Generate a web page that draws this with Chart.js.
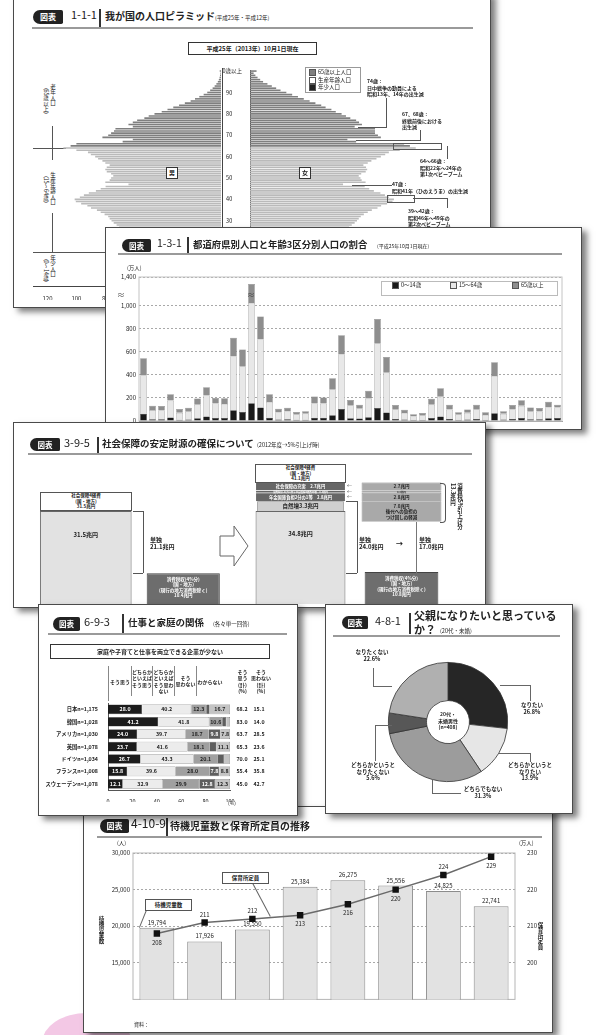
<!DOCTYPE html>
<html lang="ja">
<head>
<meta charset="utf-8">
<title>図表</title>
<script src="https://cdn.jsdelivr.net/npm/chart.js@4.4.1/dist/chart.umd.min.js"></script>
<style>
body{margin:0;width:597px;height:1035px;overflow:hidden;background:#fff;font-family:"Noto Sans CJK JP","Noto Sans",sans-serif;color:#222}
.layer,.clip{position:absolute;left:0;top:0;width:597px;height:1035px}
.box{position:absolute;background:#fff;border:1.5px solid #4a4a4a;box-sizing:border-box;box-shadow:5px 4px 6px rgba(0,0,0,.5)}
.a{position:absolute;white-space:nowrap;line-height:1.2}
.b{font-weight:bold}
.c{text-align:center}
.pill{position:absolute;background:#222;color:#fff;border-radius:8px 2px 2px 8px;font-weight:bold;text-align:center}
.vb{position:absolute;width:1.5px;background:#333}
.ln{position:absolute;background:#555}
.vt{writing-mode:vertical-rl}
canvas{position:absolute}
.sw{display:inline-block;width:5px;height:5px;border:.5px solid #555;margin-right:2px;vertical-align:middle}
</style>
</head>
<body>

<div class="a" style="left:42px;top:1013px;width:90px;height:60px;border-radius:50%;background:#f3c8e5;z-index:0"></div>

<!-- 1-1-1 人口ピラミッド -->
<div class="layer" style="z-index:1">
 <div class="box" style="left:13px;top:-8px;width:478px;height:316px"></div>
 <div class="clip" style="clip-path:inset(0 107px 728px 14px)">
  <div class="pill" style="left:33px;top:10px;width:30px;height:14px;font-size:8px;line-height:14px">図表</div>
  <div class="a" style="left:71px;top:8px;font-size:11px">1-1-1</div>
  <div class="vb" style="left:99px;top:9px;height:18px"></div>
  <div class="a b" style="left:105px;top:10px;font-size:10px">我が国の人口ピラミッド</div>
  <div class="a" style="left:215px;top:15px;font-size:5.5px">(平成25年・平成12年)</div>
  <div class="ln" style="left:32px;top:27px;width:441px;height:2px;background:#9a9a9a"></div>
  <div class="a b c" style="left:188px;top:42px;width:129px;height:13px;border:1px solid #333;box-sizing:border-box;font-size:6px;line-height:11px">平成25年（2013年）10月1日現在</div>

  <div class="a vt" style="left:42px;top:84px;font-size:5.5px;line-height:7px">老年人口<br>（65歳以上）</div>
  <div class="a vt" style="left:42px;top:172px;font-size:5.5px;line-height:7px">生産年齢人口<br>（15～64歳）</div>
  <div class="a vt" style="left:42px;top:255px;font-size:5.5px;line-height:7px">年少人口<br>（0～14歳）</div>
  <div class="ln" style="left:33px;top:148px;width:33px;height:1px"></div>
  <div class="ln" style="left:52px;top:126px;width:1px;height:34px"></div>
  <div class="ln" style="left:33px;top:252px;width:75px;height:1px"></div>
  <div class="ln" style="left:52px;top:213px;width:1px;height:39px"></div>

  <canvas id="pyrMale" width="189" height="234" style="left:33px;top:66px"></canvas>
  <canvas id="pyrFemale" width="250" height="234" style="left:222px;top:66px"></canvas>
  <div class="ln" style="left:222px;top:68px;width:1px;height:218px;background:#444"></div>

  <div class="a b c" style="left:166px;top:167px;width:10px;height:10px;border:1px solid #333;background:#fff;font-size:6px;line-height:10px">男</div>
  <div class="a b c" style="left:299px;top:167px;width:10px;height:10px;border:1px solid #333;background:#fff;font-size:6px;line-height:10px">女</div>

  <div class="a" style="left:305px;top:67px;width:56px;height:26px;border:1px solid #999;background:#fff;box-sizing:border-box;padding:1px 3px;font-size:5.5px;line-height:7.6px">
   <div><span class="sw" style="background:#7f7f7f"></span>65歳以上人口</div>
   <div><span class="sw" style="background:#fff"></span>生産年齢人口</div>
   <div><span class="sw" style="background:#222"></span>年少人口</div>
  </div>

  <div class="a b" style="left:367px;top:78px;font-size:5px;line-height:6.5px">74歳：<br>日中戦争の動員による<br>昭和13年、14年の出生減</div>
  <div class="ln" style="left:386px;top:98px;width:1px;height:29px"></div>
  <div class="ln" style="left:358px;top:127px;width:29px;height:1px"></div>
  <div class="a b" style="left:402px;top:111px;font-size:5px;line-height:6.5px">67、68歳：<br>終戦前後における<br>出生減</div>
  <div class="ln" style="left:420px;top:130px;width:1px;height:10px"></div>
  <div class="ln" style="left:356px;top:140px;width:65px;height:1px"></div>
  <div class="a" style="left:393px;top:143px;width:47px;height:5px;border:.8px solid #555"></div>
  <div class="ln" style="left:447px;top:146px;width:1px;height:13px"></div>
  <div class="a b" style="left:420px;top:158px;font-size:5px;line-height:6.5px">64～66歳：<br>昭和22年～24年の<br>第1次ベビーブーム</div>
  <div class="ln" style="left:352px;top:185px;width:40px;height:1px"></div>
  <div class="a b" style="left:392px;top:181px;font-size:5px;line-height:6.5px">47歳：<br>昭和41年（ひのえうま）の出生減</div>
  <div class="a" style="left:387px;top:195px;width:26px;height:6px;border:.8px solid #555"></div>
  <div class="ln" style="left:413px;top:198px;width:34px;height:1px"></div>
  <div class="ln" style="left:447px;top:198px;width:1px;height:10px"></div>
  <div class="a b" style="left:408px;top:208px;font-size:5px;line-height:6.5px">39～42歳：<br>昭和46年～49年の<br>第2次ベビーブーム</div>
 </div>
</div>

<!-- 1-3-1 都道府県別人口 -->
<div class="layer" style="z-index:2">
 <div class="box" style="left:105px;top:227px;width:477px;height:203px"></div>
 <div class="clip" style="clip-path:inset(228px 16px 606px 106px)">
  <div class="pill" style="left:122px;top:239px;width:29px;height:13px;font-size:7.5px;line-height:13px">図表</div>
  <div class="a" style="left:157px;top:237px;font-size:10.5px">1-3-1</div>
  <div class="vb" style="left:187px;top:237px;height:16px"></div>
  <div class="a b" style="left:193px;top:239px;font-size:9.4px">都道府県別人口と年齢3区分別人口の割合</div>
  <div class="a" style="left:377px;top:243px;font-size:5px">(平成25年10月1日現在)</div>
  <div class="ln" style="left:118px;top:253px;width:444px;height:2px;background:#9a9a9a"></div>
  <div class="a" style="left:127px;top:265px;font-size:5.5px">(万人)</div>
  <canvas id="prefChart" width="460" height="200" style="left:108px;top:262px"></canvas>
  <div class="a" style="left:117px;top:290px;font-size:8px;color:#444">≈</div>
  <div class="a" style="left:247px;top:290px;font-size:8px;color:#444">≈</div>
  <div class="a" style="left:381px;top:281px;width:177px;height:15px;border:1px solid #bbb;background:#fff;box-sizing:border-box;font-size:5.5px;line-height:13px">
   <span class="a" style="left:10px"><span class="sw" style="background:#1a1a1a"></span>0～14歳</span>
   <span class="a" style="left:68px"><span class="sw" style="background:#e8e8e8"></span>15～64歳</span>
   <span class="a" style="left:130px"><span class="sw" style="background:#8e8e8e"></span>65歳以上</span>
  </div>
 </div>
</div>

<!-- 3-9-5 社会保障の安定財源 -->
<div class="layer" style="z-index:3">
 <div class="box" style="left:13px;top:422px;width:473px;height:186px"></div>
 <div class="clip" style="clip-path:inset(423px 112px 428px 14px)">
  <div class="pill" style="left:30px;top:438px;width:30px;height:13px;font-size:7.5px;line-height:13px">図表</div>
  <div class="a" style="left:64px;top:436px;font-size:11px">3-9-5</div>
  <div class="vb" style="left:97px;top:437px;height:16px"></div>
  <div class="a b" style="left:102px;top:438px;font-size:9.5px">社会保障の安定財源の確保について</div>
  <div class="a" style="left:257px;top:442px;font-size:5.5px">(2012年度→5%引上げ時)</div>
  <div class="ln" style="left:28px;top:453px;width:444px;height:2px;background:#9a9a9a"></div>

  <canvas id="ssLeft" width="206" height="145" style="left:32px;top:463px"></canvas>
  <canvas id="ssRight" width="212" height="145" style="left:245px;top:463px"></canvas>

  <div class="a b c" style="left:40px;top:492px;width:92px;height:19px;border:1px solid #555;background:#fff;box-sizing:border-box;font-size:4.5px;line-height:5.6px">社会保障4経費<br>(国・地方)<br>31.5兆円</div>
  <div class="a b c" style="left:255px;top:464px;width:91px;height:19px;border:1px solid #555;background:#fff;box-sizing:border-box;font-size:4.5px;line-height:5.6px">社会保障4経費<br>(国・地方)<br>41.1兆円</div>

  <div class="ln" style="left:133px;top:511px;width:10px;height:1px"></div>
  <div class="ln" style="left:143px;top:511px;width:1px;height:62px"></div>
  <div class="ln" style="left:133px;top:573px;width:10px;height:1px"></div>
  <div class="a b" style="left:150px;top:536px;font-size:6px;line-height:7px">単独<br>21.1兆円</div>

  <svg class="a" style="left:219px;top:525px" width="31" height="42"><polygon points="1,11 15,11 15,1 29,21 15,41 15,31 1,31" fill="#fff" stroke="#666" stroke-width="1"/></svg>

  <div class="ln" style="left:346px;top:501px;width:11px;height:1px"></div>
  <div class="ln" style="left:357px;top:501px;width:1px;height:72px"></div>
  <div class="ln" style="left:346px;top:573px;width:11px;height:1px"></div>
  <div class="a" style="left:347px;top:482px;font-size:5px;line-height:5.6px;color:#444">←<br>←<br>←</div>
  <div class="a b" style="left:359px;top:536px;font-size:6px;line-height:7px">単独<br>24.0兆円</div>
  <div class="a b" style="left:396px;top:539px;font-size:7px">→</div>
  <div class="a b" style="left:419px;top:536px;font-size:6px;line-height:7px">単独<br>17.0兆円</div>
  <div class="ln" style="left:416px;top:522px;width:1px;height:51px;background:#777"></div>
  <div class="a" style="left:440px;top:483px;width:5px;height:38px;border:1px solid #555;border-left:none;border-radius:0 4px 4px 0"></div>
  <div class="a b vt" style="left:449px;top:483px;font-size:5.5px;line-height:7px">消費税5%引上げ分<br>13.3兆円</div>
 </div>
</div>

<!-- 4-10-9 待機児童数と保育所定員 -->
<div class="layer" style="z-index:4">
 <div class="box" style="left:83px;top:806px;width:470px;height:227px"></div>
 <div class="clip" style="clip-path:inset(807px 45px 3px 84px)">
  <div class="pill" style="left:100px;top:819px;width:29px;height:14px;font-size:8px;line-height:14px">図表</div>
  <div class="a" style="left:131px;top:816px;font-size:12px">4-10-9</div>
  <div class="vb" style="left:166px;top:818px;height:18px"></div>
  <div class="a b" style="left:170px;top:820px;font-size:10px">待機児童数と保育所定員の推移</div>
  <div class="ln" style="left:97px;top:836px;width:445px;height:2px;background:#9a9a9a"></div>
  <div class="a" style="left:117px;top:840px;font-size:5.5px">(人)</div>
  <div class="a" style="left:519px;top:840px;font-size:5.5px">(万人)</div>
  <canvas id="comboChart" width="460" height="162" style="left:90px;top:845px"></canvas>
  <div class="a b vt" style="left:98px;top:916px;font-size:5.5px">待機児童数</div>
  <div class="a b vt" style="left:537px;top:922px;font-size:5.5px">保育所定員</div>
  <div class="ln" style="left:146px;top:910px;width:1px;height:19px;transform:rotate(22deg);transform-origin:top;background:#666"></div>
  <div class="a b c" style="left:145px;top:899px;width:47px;height:12px;border:1px solid #555;background:#fff;box-sizing:border-box;font-size:5.5px;line-height:10px">待機児童数</div>
  <div class="ln" style="left:252px;top:883px;width:1px;height:38px;transform:rotate(-28deg);transform-origin:top;background:#666"></div>
  <div class="a b c" style="left:222px;top:872px;width:47px;height:12px;border:1px solid #555;background:#fff;box-sizing:border-box;font-size:5.5px;line-height:10px">保育所定員</div>
  <div class="a" style="left:134px;top:1021px;font-size:5px">資料：</div>
 </div>
</div>

<!-- 6-9-3 仕事と家庭の関係 -->
<div class="layer" style="z-index:5">
 <div class="box" style="left:38px;top:604px;width:260px;height:212px"></div>
 <div class="clip" style="clip-path:inset(605px 300px 220px 39px)">
  <div class="pill" style="left:53px;top:617px;width:27px;height:14px;font-size:7.5px;line-height:14px">図表</div>
  <div class="a" style="left:84px;top:615px;font-size:11px">6-9-3</div>
  <div class="vb" style="left:122px;top:614px;height:20px"></div>
  <div class="a b" style="left:128px;top:617px;font-size:9.5px">仕事と家庭の関係</div>
  <div class="a" style="left:213px;top:621px;font-size:5.5px">(各々単一回答)</div>
  <div class="ln" style="left:48px;top:633px;width:239px;height:1.5px;background:#9a9a9a"></div>
  <div class="a b c" style="left:50px;top:644px;width:220px;height:15px;border:1px solid #333;box-sizing:border-box;font-size:6px;line-height:13px">家庭や子育てと仕事を両立できる企業が少ない</div>

  <div class="a b c" style="left:109px;top:679px;width:22px;font-size:5px">そう思う</div>
  <div class="a b c" style="left:132px;top:669px;width:20px;font-size:5px;line-height:6.3px">どちらか<br>といえば<br>そう思う</div>
  <div class="a b c" style="left:153px;top:669px;width:21px;font-size:5px;line-height:6.3px">どちらか<br>といえば<br>そう思わ<br>ない</div>
  <div class="a b c" style="left:175px;top:675px;width:21px;font-size:5px;line-height:6.3px">そう<br>思わない</div>
  <div class="a b c" style="left:197px;top:679px;width:26px;font-size:5px">わからない</div>
  <div class="a b c" style="left:236px;top:669px;width:13px;font-size:5px;line-height:6.3px">そう<br>思う<br>(計)<br>(%)</div>
  <div class="a b c" style="left:250px;top:669px;width:22px;font-size:5px;line-height:6.3px">そう<br>思わない<br>(計)<br>(%)</div>
  <div class="ln" style="left:108px;top:666px;width:.8px;height:35px;background:#888"></div>
  <div class="ln" style="left:131px;top:666px;width:.8px;height:30px;background:#888"></div>
  <div class="ln" style="left:152px;top:666px;width:.8px;height:30px;background:#888"></div>
  <div class="ln" style="left:174px;top:666px;width:.8px;height:30px;background:#888"></div>
  <div class="ln" style="left:196px;top:666px;width:.8px;height:30px;background:#888"></div>
  <canvas id="workChart" width="235" height="104" style="left:40px;top:698px"></canvas>
  <div class="a" style="left:228px;top:800px;font-size:5px">(%)</div>
 </div>
</div>

<!-- 4-8-1 父親になりたいか -->
<div class="layer" style="z-index:5">
 <div class="box" style="left:325px;top:604px;width:248px;height:210px"></div>
 <div class="clip" style="clip-path:inset(605px 25px 222px 326px)">
  <div class="pill" style="left:342px;top:616px;width:26px;height:13px;font-size:7.5px;line-height:13px">図表</div>
  <div class="a" style="left:375px;top:614px;font-size:11px">4-8-1</div>
  <div class="vb" style="left:409px;top:613px;height:21px"></div>
  <div class="a b" style="left:414px;top:609px;font-size:11px">父親になりたいと思っている</div>
  <div class="a b" style="left:414px;top:623px;font-size:11px">か？</div>
  <div class="a" style="left:440px;top:628px;font-size:5.5px">(20代・未婚)</div>
  <div class="ln" style="left:333px;top:635px;width:227px;height:1.5px;background:#9a9a9a"></div>
  <canvas id="fatherChart" width="136" height="136" style="left:380px;top:654px"></canvas>
  <div class="a b c" style="left:426px;top:711px;width:44px;font-size:5px;line-height:6.5px">20代・<br>未婚男性<br>(n=408)</div>

  <div class="ln" style="left:373px;top:668px;width:.8px;height:18px;background:#666"></div>
  <div class="ln" style="left:373px;top:686px;width:19px;height:.8px;background:#666"></div>
  <div class="ln" style="left:500px;top:685px;width:30px;height:.8px;background:#666"></div>
  <div class="ln" style="left:530px;top:685px;width:.8px;height:16px;background:#666"></div>
  <div class="ln" style="left:498px;top:753px;width:32px;height:.8px;background:#666"></div>
  <div class="ln" style="left:530px;top:753px;width:.8px;height:9px;background:#666"></div>
  <div class="ln" style="left:432px;top:779px;width:.8px;height:14px;background:#666"></div>
  <div class="ln" style="left:432px;top:793px;width:29px;height:.8px;background:#666"></div>
  <div class="ln" style="left:375px;top:725px;width:17px;height:.8px;background:#666"></div>
  <div class="ln" style="left:375px;top:725px;width:.8px;height:36px;background:#666"></div>

  <div id="fl0" class="a b c" style="left:513px;top:702px;width:38px;font-size:5.5px;white-space:pre"></div>
  <div id="fl1" class="a b c" style="left:501px;top:762px;width:58px;font-size:5.5px;white-space:pre"></div>
  <div id="fl2" class="a b c" style="left:458px;top:786px;width:50px;font-size:5.5px;white-space:pre"></div>
  <div id="fl3" class="a b c" style="left:343px;top:762px;width:60px;font-size:5.5px;white-space:pre"></div>
  <div id="fl4" class="a b c" style="left:347px;top:649px;width:50px;font-size:5.5px;white-space:pre"></div>
 </div>
</div>

<script>
// ---- 1-1-1 人口ピラミッド（万人）----
const pyramidAges = [0,1,2,3,4,5,6,7,8,9,10,11,12,13,14,15,16,17,18,19,20,21,22,23,24,25,26,27,28,29,30,31,32,33,34,35,36,37,38,39,40,41,42,43,44,45,46,47,48,49,50,51,52,53,54,55,56,57,58,59,60,61,62,63,64,65,66,67,68,69,70,71,72,73,74,75,76,77,78,79,80,81,82,83,84,85,86,87,88,89,90,91,92,93,94,95,96,97,98,99,100];
const male2013 = [52.7,53.0,53.5,54.0,54.3,54.1,54.8,55.3,54.5,55.6,
  57.0,59.2,59.8,60.4,60.9,61.1,61.9,61.7,62.3,63.3,
  62.8,62.6,63.6,64.4,65.4,66.3,68.0,70.5,72.2,74.2,
  75.7,77.0,78.0,80.5,83.2,85.8,89.9,92.4,96.7,100.4,
  101.2,97.6,94.8,91.4,86.5,83.2,79.8,64.0,80.0,77.0,
  76.0,74.5,76.0,79.0,80.0,79.0,77.0,80.0,82.0,85.0,
  87.0,90.0,92.0,100.0,109.0,104.0,100.0,68.0,61.0,82.0,
  78.0,76.0,74.0,73.0,61.0,64.0,61.0,58.0,53.0,50.0,
  46.0,41.0,37.0,33.0,29.0,25.0,21.0,18.0,15.0,12.0,
  9.5,7.5,5.8,4.4,3.2,2.2,1.5,1.0,0.7,0.4,
  0.9];
const female2013 = [50.3,50.5,50.9,51.4,51.8,51.5,52.2,52.7,51.9,53.0,
  54.2,56.3,57.0,57.4,57.9,58.0,58.9,58.7,59.2,60.1,
  59.7,59.6,60.6,61.6,62.8,64.2,65.8,68.2,70.0,72.0,
  73.6,74.8,76.2,78.3,81.0,83.8,87.7,90.2,94.3,98.0,
  99.0,95.5,92.8,89.7,85.2,82.0,78.9,64.0,79.5,76.8,
  76.0,74.8,76.5,79.6,80.6,79.8,78.0,81.0,83.5,87.0,
  90.0,93.0,95.5,103.0,114.0,110.0,106.0,73.0,67.0,90.0,
  88.0,86.0,86.0,86.0,72.0,77.0,75.0,73.0,69.0,66.0,
  63.0,59.0,56.0,52.0,49.0,45.0,41.0,37.0,33.0,29.0,
  25.0,21.0,18.0,15.0,12.0,9.0,7.0,5.2,3.7,2.5,
  4.5];

// ---- 1-3-1 都道府県別人口（万人）----
const prefNames = ['北海道','青森','岩手','宮城','秋田','山形','福島','茨城','栃木','群馬','埼玉','千葉','東京','神奈川','新潟','富山','石川','福井','山梨','長野','岐阜','静岡','愛知','三重','滋賀','京都','大阪','兵庫','奈良','和歌山','鳥取','島根','岡山','広島','山口','徳島','香川','愛媛','高知','福岡','佐賀','長崎','熊本','大分','宮崎','鹿児島','沖縄'];
const age0to14 = [63,15,16,30,11,14,24,38,26,26,94,79,155,118,28,13,15,11,11,28,28,49,105,24,21,32,112,74,17,12,8,9,26,38,17,9,13,17,9,68,12,18,25,15,16,23,25];
const age15to64 = [333,80,76,147,60,67,118,184,126,122,469,396,870,592,138,63,70,47,52,124,123,226,475,112,89,163,562,345,84,58,34,40,116,173,82,46,58,84,43,323,50,82,107,69,66,97,92];
const age65plus = [148,38,38,55,33,33,54,71,47,50,159,145,165,197,67,31,30,21,22,60,54,97,164,47,32,67,211,137,37,28,17,21,51,73,43,22,28,40,23,118,22,39,48,34,30,48,25];
const prefTickValues = [0,200,400,600,800,1000,1250];
const prefTickLabels = ['0','200','400','600','800','1,000','1,400'];

// ---- 3-9-5 社会保障4経費と消費税収（兆円）----
const ssBeforeCats = ['2012年度','消費税収'];
const ssBefore = [31.5, 10.4];             // 社会保障4経費, 消費税収(4%分)
const ssAfterCats = ['5%引上げ時','消費税収'];
const ssAfterBase = [31.5, 3.3];           // 現行分, 自然増
const ssAfterAdd = [2.8, 0.8, 2.7];        // 下から
const ssAfterAddNames = ['年金国庫負担2分の1等', '消費税引上げに伴う社会保障4経費の増', '社会保障の充実'];
const ssTaxNow = 10.8;
const ssTaxNew = [7.0, 2.8, 0.8, 2.7];     // 引上げ分の内訳（下から）

// ---- 6-9-3 仕事と家庭の関係（%）----
const countries = ['日本n=1,175','韓国n=1,028','アメリカn=1,030','英国n=1,078','ドイツn=1,034','フランスn=1,008','スウェーデンn=1,078'];
const answers = ['そう思う','どちらかといえばそう思う','どちらかといえばそう思わない','そう思わない','わからない'];
const agree = [28.0, 41.2, 24.0, 23.7, 26.7, 15.8, 12.1];
const ratherAgree = [40.2, 41.8, 39.7, 41.6, 43.3, 39.6, 32.9];
const ratherDisagree = [12.3, 10.6, 18.7, 18.1, 20.1, 28.0, 29.9];
const disagree = [2.8, 3.4, 9.8, 5.5, 5.0, 7.8, 12.8];
const dontKnow = [16.7, 3.0, 7.8, 11.1, 4.9, 8.8, 12.3];

// ---- 4-8-1 父親になりたいか（%）----
const fatherLabels = ['なりたい','どちらかというと\nなりたい','どちらでもない','どちらかというと\nなりたくない','なりたくない'];
const fatherShares = [26.8, 13.9, 31.3, 5.6, 22.6];

// ---- 4-10-9 待機児童数（人）と保育所定員（万人）----
const yearLabels = ['平成18年','19年','20年','21年','22年','23年','24年','25年'];
const waiting = [19794, 17926, 19550, 25384, 26275, 25556, 24825, 22741];
const capacity = [208, 211, 212, 213, 216, 220, 224, 229];
const capAbove = [false, true, true, false, false, false, true, false];

Chart.defaults.font.family = '"Noto Sans CJK JP","Noto Sans",sans-serif';
Chart.defaults.color = '#222';
Chart.defaults.animation = false;
Chart.defaults.responsive = false;
Chart.defaults.plugins.legend.display = false;
Chart.defaults.plugins.tooltip.enabled = false;

const frame = {
  id: 'frame',
  beforeDatasetsDraw(chart, args, opts) {
    const a = chart.chartArea, c = chart.ctx;
    c.save();
    c.strokeStyle = opts.color || '#bbb';
    c.lineWidth = 1;
    c.strokeRect(a.left, a.top, a.right - a.left, a.bottom - a.top);
    c.restore();
  }
};

// pyramid
const ageColor = ctx => {
  const a = pyramidAges[ctx.dataIndex];
  return a >= 65 ? '#7f7f7f' : (a >= 15 ? '#bababa' : '#2a2a2a');
};

new Chart(document.getElementById('pyrMale'), {
  type: 'bar',
  data: { labels: pyramidAges, datasets: [{ data: male2013, backgroundColor: ageColor, barPercentage: 0.75, categoryPercentage: 1 }] },
  options: {
    indexAxis: 'y',
    layout: { padding: { top: 4 } },
    scales: {
      x: { reverse: true, min: 0, max: 130, grid: { display: false }, border: { color: '#444' },
           ticks: { stepSize: 20, includeBounds: false, maxRotation: 0, padding: 1, font: { size: 6 }, callback: v => v === 0 ? '' : v },
           afterFit(s) { s.height = 14; } },
      y: { display: false, reverse: true }
    }
  }
});

new Chart(document.getElementById('pyrFemale'), {
  type: 'bar',
  data: { labels: pyramidAges, datasets: [{ data: female2013, backgroundColor: ageColor, barPercentage: 0.75, categoryPercentage: 1 }] },
  options: {
    indexAxis: 'y',
    layout: { padding: { top: 4 } },
    scales: {
      x: { min: 0, max: 152.7, grid: { display: false }, border: { color: '#444' }, ticks: { display: false },
           afterFit(s) { s.height = 14; } },
      y: { reverse: true, grid: { display: false }, border: { color: '#444' },
           ticks: { autoSkip: false, padding: 0, crossAlign: 'center', font: { size: 5.5 },
             callback(v) { const a = Number(this.getLabelForValue(v)); return a === 100 ? '100歳以上' : (a > 0 && a % 10 === 0 ? String(a) : ''); } },
           afterFit(s) { s.width = 28; } }
    }
  }
});

// prefectures
new Chart(document.getElementById('prefChart'), {
  type: 'bar',
  data: {
    labels: prefNames.map(n => n.split('')),
    datasets: [
      { label: '0～14歳', data: age0to14, backgroundColor: '#1a1a1a', borderColor: '#1a1a1a', borderWidth: 0.5 },
      { label: '15～64歳', data: age15to64, backgroundColor: '#e8e8e8', borderColor: '#9a9a9a', borderWidth: 0.6 },
      { label: '65歳以上', data: age65plus, backgroundColor: '#8e8e8e', borderColor: '#7a7a7a', borderWidth: 0.5 }
    ].map(d => Object.assign(d, { barPercentage: 0.75, categoryPercentage: 1 }))
  },
  options: {
    layout: { padding: { top: 15, right: 6 } },
    plugins: { frame: { color: '#c4c4c4' } },
    scales: {
      x: { stacked: true, grid: { display: false }, border: { color: '#999' },
           ticks: { autoSkip: false, maxRotation: 0, minRotation: 0, padding: 2, font: { size: 6 } },
           afterFit(s) { s.height = 41; } },
      y: { stacked: true, min: 0, max: 1250,
           afterBuildTicks(s) { s.ticks = prefTickValues.map(v => ({ value: v })); },
           grid: { color: '#a8a8a8', drawTicks: false }, border: { display: false, dash: [2, 2] },
           ticks: { padding: 3, font: { size: 6 }, callback: v => prefTickLabels[prefTickValues.indexOf(v)] },
           afterFit(s) { s.width = 31; } }
    }
  },
  plugins: [frame]
});

// social security diagram
const barNotes = {
  id: 'barNotes',
  afterDatasetsDraw(chart) {
    const c = chart.ctx;
    chart.data.datasets.forEach((ds, di) => {
      if (!ds.notes) return;
      chart.getDatasetMeta(di).data.forEach((bar, i) => {
        if (!ds.notes[i]) return;
        const lines = ds.notes[i].split('\n');
        const size = ds.noteSize || 5;
        const y0 = ds.noteTop != null ? bar.y + ds.noteTop : (bar.y + bar.base) / 2 - (lines.length - 1) * size * 0.6;
        c.save();
        c.font = 'bold ' + size + 'px "Noto Sans CJK JP"';
        c.fillStyle = ds.noteColor || '#222';
        c.textAlign = 'center';
        c.textBaseline = 'middle';
        lines.forEach((t, k) => c.fillText(t, bar.x, y0 + k * size * 1.2));
        c.restore();
      });
    });
  }
};
const ssOptions = {
  layout: { padding: { top: 8, bottom: 4, left: 5, right: 6 } },
  scales: { x: { display: false }, y: { display: false, min: 0, max: 45 } }
};
const taxNote = v => '消費税収(4%分)\n(国・地方)\n(現行の地方消費税除く)\n' + v.toFixed(1) + '兆円';

new Chart(document.getElementById('ssLeft'), {
  type: 'bar',
  data: {
    labels: ssBeforeCats,
    datasets: [
      { data: [[0, ssBefore[0]], null], backgroundColor: '#e2e2e2', borderColor: '#666', borderWidth: 1,
        barPercentage: 0.94, categoryPercentage: 1, grouped: false,
        notes: [ssBefore[0].toFixed(1) + '兆円', null], noteTop: 24, noteSize: 6 },
      { data: [null, [0, ssBefore[1]]], backgroundColor: '#6d6d6d', borderColor: '#444', borderWidth: 1,
        barPercentage: 0.75, categoryPercentage: 1, grouped: false,
        notes: [null, taxNote(ssBefore[1])], noteTop: 6, noteSize: 4.5, noteColor: '#fff' }
    ]
  },
  options: ssOptions,
  plugins: [barNotes]
});

const afterTop = ssAfterBase[0] + ssAfterBase[1];
let acc = afterTop;
const addRanges = ssAfterAdd.map(v => { const r = [acc, acc + v]; acc += v; return r; });
let gAcc = afterTop - ssTaxNew[0];
const newRanges = ssTaxNew.map(v => { const r = [gAcc, gAcc + v]; gAcc += v; return r; });
const grayNotes = ssTaxNew.map((v, k) => k === 0 ? v.toFixed(1) + '兆円\n後代への負担の\nつけ回しの軽減' : v.toFixed(1) + '兆円');

const rightSets = [
  { data: [[0, ssAfterBase[0]], null], backgroundColor: '#e2e2e2', borderColor: '#666', borderWidth: 1,
    barPercentage: 0.89, notes: [afterTop.toFixed(1) + '兆円', null], noteTop: 23, noteSize: 6 },
  { data: [[ssAfterBase[0], afterTop], null], backgroundColor: '#cfcfcf', borderColor: '#888', borderWidth: 0.8,
    barPercentage: 0.86, notes: ['自然増' + ssAfterBase[1].toFixed(1) + '兆円', null], noteSize: 5.5 },
  { data: [null, [0, ssTaxNow]], backgroundColor: '#6e6e6e', borderColor: '#444', borderWidth: 1,
    barPercentage: 0.73, notes: [null, taxNote(ssTaxNow)], noteTop: 6, noteSize: 4.5, noteColor: '#fff' }
];
addRanges.forEach((r, k) => rightSets.push({
  data: [r, null], backgroundColor: '#666', borderColor: '#fff', borderWidth: 0.5, barPercentage: 0.89,
  notes: [ssAfterAddNames[k] + '　' + ssAfterAdd[k].toFixed(1) + '兆円', null],
  noteSize: ssAfterAdd[k] < 1 ? 2.5 : 4.3, noteColor: '#fff'
}));
newRanges.forEach((r, k) => rightSets.push({
  data: [null, r], backgroundColor: '#a9a9a9', borderColor: '#777', borderWidth: 0.6, barPercentage: 0.79,
  notes: [null, grayNotes[k]], noteSize: ssTaxNew[k] < 1 ? 2.5 : 4.5
}));
rightSets.forEach(d => Object.assign(d, { categoryPercentage: 1, grouped: false }));

new Chart(document.getElementById('ssRight'), {
  type: 'bar',
  data: { labels: ssAfterCats, datasets: rightSets },
  options: Object.assign({}, ssOptions, { layout: { padding: { top: 8, bottom: 4, left: 5, right: 5 } } }),
  plugins: [barNotes]
});

// work / family
const workLabels = {
  id: 'workLabels',
  afterDatasetsDraw(chart) {
    const c = chart.ctx, area = chart.chartArea;
    c.save();
    c.font = 'bold 5.3px "Noto Sans CJK JP"';
    c.textAlign = 'center';
    c.textBaseline = 'middle';
    chart.data.datasets.forEach((ds, di) => {
      chart.getDatasetMeta(di).data.forEach((bar, i) => {
        if (Math.abs(bar.x - bar.base) < 9) return;
        c.fillStyle = (di === 0 || di === 3) ? '#fff' : '#222';
        c.fillText(ds.data[i].toFixed(1), (bar.x + bar.base) / 2, bar.y);
      });
    });
    c.fillStyle = '#222';
    countries.forEach((n, i) => {
      const y = chart.scales.y.getPixelForValue(i);
      c.fillText((agree[i] + ratherAgree[i]).toFixed(1), area.right + 12, y);
      c.fillText((ratherDisagree[i] + disagree[i]).toFixed(1), area.right + 29, y);
    });
    c.restore();
  }
};
const answerData = [agree, ratherAgree, ratherDisagree, disagree, dontKnow];
const answerColors = ['#1c1c1c', '#ececec', '#a0a0a0', '#5e5e5e', '#c4c4c4'];
new Chart(document.getElementById('workChart'), {
  type: 'bar',
  data: {
    labels: countries,
    datasets: answers.map((a, k) => ({ label: a, data: answerData[k], backgroundColor: answerColors[k],
      borderColor: '#555', borderWidth: 0.5, barPercentage: 0.78, categoryPercentage: 1 }))
  },
  options: {
    indexAxis: 'y',
    layout: { padding: { top: 3, right: 45 } },
    scales: {
      x: { stacked: true, min: 0, max: 100, grid: { display: false }, border: { color: '#555' },
           ticks: { stepSize: 20, padding: 1, maxRotation: 0, font: { size: 5.5 } },
           afterFit(s) { s.height = 12; } },
      y: { stacked: true, grid: { display: false }, border: { color: '#555' },
           ticks: { padding: 2, font: { size: 5.3, weight: 'bold' } },
           afterFit(s) { s.width = 68; } }
    }
  },
  plugins: [workLabels]
});

// father doughnut
new Chart(document.getElementById('fatherChart'), {
  type: 'doughnut',
  data: {
    labels: fatherLabels,
    datasets: [{ data: fatherShares, backgroundColor: ['#262626', '#e6e6e6', '#9c9c9c', '#575757', '#b0b0b0'],
      borderColor: '#333', borderWidth: 0.8 }]
  },
  options: { cutout: '36%', layout: { padding: 8 } }
});
fatherLabels.forEach((t, i) => {
  document.getElementById('fl' + i).textContent = t + '\n' + fatherShares[i].toFixed(1) + '%';
});

// waiting children / capacity
const comboLabels = {
  id: 'comboLabels',
  afterDatasetsDraw(chart) {
    const c = chart.ctx;
    c.save();
    c.font = '6px "Noto Sans CJK JP"';
    c.fillStyle = '#222';
    c.textAlign = 'center';
    chart.getDatasetMeta(1).data.forEach((bar, i) => c.fillText(waiting[i].toLocaleString('en-US'), bar.x, bar.y - 3));
    chart.getDatasetMeta(0).data.forEach((pt, i) => c.fillText(capacity[i], pt.x, capAbove[i] ? pt.y - 6 : pt.y + 11));
    c.restore();
  }
};
new Chart(document.getElementById('comboChart'), {
  data: {
    labels: yearLabels,
    datasets: [
      { type: 'line', label: '保育所定員', data: capacity, yAxisID: 'y2', borderColor: '#6a6a6a', borderWidth: 1.5,
        pointStyle: 'rect', pointRadius: 3.5, pointBackgroundColor: '#111', pointBorderColor: '#111', order: 0 },
      { type: 'bar', label: '待機児童数', data: waiting, yAxisID: 'y', backgroundColor: '#e2e2e2', borderColor: '#8c8c8c',
        borderWidth: 1, barPercentage: 0.73, categoryPercentage: 1, order: 1 }
    ]
  },
  options: {
    layout: { padding: { top: 8, bottom: 5 } },
    plugins: { frame: { color: '#b5b5b5' } },
    scales: {
      x: { display: false },
      y: { position: 'left', min: 10000, max: 30000,
           afterBuildTicks(s) { s.ticks = [15000, 20000, 25000, 30000].map(v => ({ value: v })); },
           grid: { color: '#a8a8a8', drawTicks: false }, border: { display: false, dash: [2, 2] },
           ticks: { padding: 3, font: { size: 6 }, callback: v => v.toLocaleString('en-US') },
           afterFit(s) { s.width = 43; } },
      y2: { position: 'right', min: 190, max: 230,
            afterBuildTicks(s) { s.ticks = [200, 210, 220, 230].map(v => ({ value: v })); },
            grid: { display: false }, border: { display: false },
            ticks: { padding: 4, font: { size: 6 } },
            afterFit(s) { s.width = 35; } }
    }
  },
  plugins: [frame, comboLabels]
});
</script>
</body>
</html>
